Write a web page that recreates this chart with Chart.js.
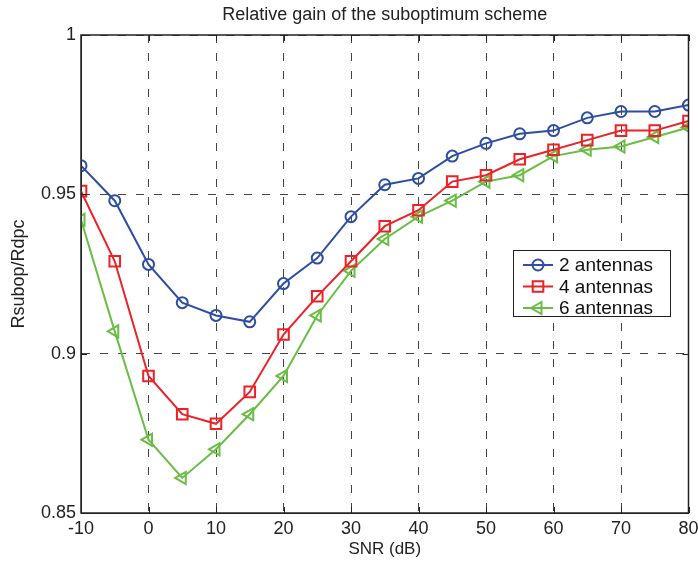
<!DOCTYPE html>
<html>
<head>
<meta charset="utf-8">
<title>Relative gain of the suboptimum scheme</title>
<script src="https://cdn.jsdelivr.net/npm/chart.js@4/dist/chart.umd.min.js"></script>
<style>
    html, body { margin: 0; padding: 0; background: #ffffff; }
    canvas { display: block; }
</style>
</head>
<body>
<canvas id="chart" width="698" height="564"></canvas>
<script>
// SNR values (dB)
const snr = [-10, -5, 0, 5, 10, 15, 20, 25, 30, 35, 40, 45, 50, 55, 60, 65, 70, 75, 80];

// Rsubop/Rdpc
const ant2 = [0.959, 0.948, 0.928, 0.916, 0.912, 0.910, 0.922, 0.930, 0.943, 0.953, 0.955, 0.962,
    0.966, 0.969, 0.970, 0.974, 0.976, 0.976, 0.978];
const ant4 = [0.951, 0.929, 0.893, 0.881, 0.878, 0.888, 0.906, 0.918, 0.929, 0.940, 0.945, 0.954,
    0.956, 0.961, 0.964, 0.967, 0.970, 0.970, 0.973];
const ant6 = [0.942, 0.907, 0.873, 0.861, 0.870, 0.881, 0.893, 0.912, 0.926, 0.936, 0.943, 0.948,
    0.954, 0.956, 0.962, 0.964, 0.965, 0.968, 0.971];

const xTicks = [-10, 0, 10, 20, 30, 40, 50, 60, 70, 80];
const yTicks = [0.85, 0.9, 0.95, 1];

const seriesNames = ['2 antennas', '4 antennas', '6 antennas'];

const FONT = '"Liberation Sans", Arial, Helvetica, sans-serif';

function pairs(ys) {
    return snr.map((x, i) => ({ x: x, y: ys[i] }));
}

function makeSet(label, ys, color, style, radius, rotation) {
    return {
        label: label,
        data: pairs(ys),
        borderColor: color,
        backgroundColor: 'rgba(0,0,0,0)',
        borderWidth: 2,
        pointStyle: style,
        pointRadius: radius,
        pointRotation: rotation,
        pointBorderColor: color,
        pointBackgroundColor: 'rgba(0,0,0,0)',
        pointBorderWidth: 2,
        tension: 0,
        fill: false
    };
}

const datasets = [
    makeSet(seriesNames[0], ant2, '#2d4ea3', 'circle', 5.5, 0),
    makeSet(seriesNames[1], ant4, '#ec2227', 'rect', 7.5, 0),
    makeSet(seriesNames[2], ant6, '#6abd45', 'triangle', 7, -90)
];

// solid box round the plot area plus small inward tick marks
const boxPlugin = {
    id: 'axesBox',
    afterDatasetsDraw(chart) {
        const { ctx, chartArea: a, scales } = chart;
        const tick = 6;
        ctx.save();
        ctx.strokeStyle = '#222';
        ctx.lineWidth = 1;
        ctx.beginPath();
        xTicks.forEach(v => {
            const px = Math.round(scales.x.getPixelForValue(v)) + 0.5;
            ctx.moveTo(px, a.bottom);
            ctx.lineTo(px, a.bottom - tick);
            ctx.moveTo(px, a.top);
            ctx.lineTo(px, a.top + tick);
        });
        yTicks.forEach(v => {
            const py = Math.round(scales.y.getPixelForValue(v)) + 0.5;
            ctx.moveTo(a.left, py);
            ctx.lineTo(a.left + tick, py);
            ctx.moveTo(a.right, py);
            ctx.lineTo(a.right - tick, py);
        });
        ctx.stroke();
        ctx.lineWidth = 1.5;
        ctx.strokeRect(a.left, a.top, a.right - a.left, a.bottom - a.top);
        ctx.restore();
    }
};

// legend box inside the plot, right side
const legendPlugin = {
    id: 'insideLegend',
    afterDraw(chart) {
        const { ctx, chartArea: a } = chart;
        const x0 = a.left + 432;
        const y0 = a.top + 215;
        const w = 157;
        const h = 66;
        ctx.save();
        ctx.fillStyle = '#ffffff';
        ctx.fillRect(x0, y0, w, h);
        ctx.strokeStyle = '#222';
        ctx.lineWidth = 1;
        ctx.strokeRect(x0 + 0.5, y0 + 0.5, w, h);

        ctx.font = '19px ' + FONT;
        ctx.textBaseline = 'middle';
        ctx.textAlign = 'left';
        chart.data.datasets.forEach((ds, i) => {
            const ry = y0 + 15 + i * 21.5;
            ctx.strokeStyle = ds.borderColor;
            ctx.lineWidth = 2;
            ctx.beginPath();
            ctx.moveTo(x0 + 10, ry);
            ctx.lineTo(x0 + 40, ry);
            ctx.stroke();
            ctx.fillStyle = 'rgba(0,0,0,0)';
            Chart.helpers.drawPoint(ctx, {
                pointStyle: ds.pointStyle,
                rotation: ds.pointRotation,
                radius: ds.pointRadius,
                borderWidth: 2
            }, x0 + 25, ry);
            ctx.fillStyle = '#111';
            ctx.fillText(ds.label, x0 + 46, ry + 1);
        });
        ctx.restore();
    }
};

const gridCfg = {
    display: true,
    color: '#444',
    lineWidth: 1,
    drawTicks: false
};

const chart = new Chart(document.getElementById('chart').getContext('2d'), {
    type: 'line',
    data: { datasets: datasets },
    options: {
        responsive: false,
        animation: false,
        devicePixelRatio: 1,
        layout: { padding: { left: 0, right: 9, top: 0, bottom: 0 } },
        plugins: {
            legend: { display: false },
            tooltip: { enabled: false },
            title: {
                display: true,
                fullSize: false,
                text: 'Relative gain of the suboptimum scheme',
                color: '#222',
                font: { family: FONT, size: 18, weight: 'normal' },
                padding: { top: 4, bottom: 9.4 }
            }
        },
        scales: {
            x: {
                type: 'linear',
                min: -10,
                max: 80,
                grid: gridCfg,
                border: { display: true, color: '#222', width: 1, dash: [8, 10] },
                afterBuildTicks: (s) => { s.ticks = xTicks.map(v => ({ value: v })); },
                afterFit: (s) => { s.height = 51; s.paddingLeft = 0; s.paddingRight = 0; },
                ticks: {
                    color: '#222',
                    padding: 5,
                    maxRotation: 0,
                    font: { family: FONT, size: 18 },
                    callback: (v) => String(v)
                },
                title: {
                    display: true,
                    text: 'SNR (dB)',
                    color: '#222',
                    font: { family: FONT, size: 17 },
                    padding: { top: 2 }
                }
            },
            y: {
                type: 'linear',
                min: 0.85,
                max: 1,
                grid: gridCfg,
                border: { display: true, color: '#222', width: 1, dash: [8, 10] },
                afterBuildTicks: (s) => { s.ticks = yTicks.map(v => ({ value: v })); },
                afterFit: (s) => { s.width = 81; },
                ticks: {
                    color: '#222',
                    padding: 5,
                    font: { family: FONT, size: 18 },
                    callback: (v) => String(Number(v.toFixed(2)))
                },
                title: {
                    display: true,
                    text: 'Rsubop/Rdpc',
                    color: '#222',
                    font: { family: FONT, size: 18 },
                    padding: { top: 8 }
                }
            }
        }
    },
    plugins: [boxPlugin, legendPlugin]
});
</script>
</body>
</html>
